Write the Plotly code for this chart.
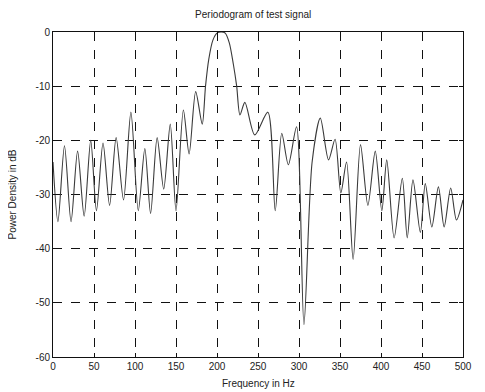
import plotly.graph_objects as go

# Frequency (Hz) and power (dB)
freq_hz = [0, 6, 14, 22, 30, 38, 46, 53, 61, 69, 77, 86, 95, 104, 112, 119, 127, 135,
           143, 150, 159, 166, 174, 182, 186, 190, 195, 200, 205, 210, 215, 220, 224,
           228, 234, 246, 262, 271, 279, 287, 297, 306, 316, 326, 336, 344, 351, 358,
           366, 375, 384, 393, 401, 407, 416, 426, 432, 439, 448, 454, 462, 470, 477,
           485, 492, 500]
power_db = [-24, -35, -21, -35, -22, -34, -20, -33, -20.5, -32, -19.5, -31, -14.8, -33,
            -21.5, -33.5, -19.5, -29, -17, -33, -14.4, -22.5, -11, -17, -10, -5, -1.5,
            -0.2, 0, -0.2, -2, -6, -10, -15.3, -13, -19, -14.8, -33, -18.7, -24.5, -17.5,
            -54, -24, -15.9, -23.6, -19.8, -29.7, -24, -42, -20.8, -32, -22, -33, -23.6,
            -38, -27, -38, -27.3, -37, -28, -36, -28.6, -36, -28.8, -34.7, -31]

x_ticks = [0, 50, 100, 150, 200, 250, 300, 350, 400, 450, 500]
y_ticks = [0, -10, -20, -30, -40, -50, -60]

FONT = "Liberation Sans, Arial, sans-serif"

fig = go.Figure()
fig.add_trace(go.Scatter(
    x=freq_hz, y=power_db, mode="lines",
    line=dict(color="#3a3a3a", width=1.1, shape="spline", smoothing=0.8),
    showlegend=False, hoverinfo="skip",
))

axis_common = dict(
    showline=True, linecolor="#111", linewidth=1, mirror="ticks",
    ticks="inside", ticklen=4, tickcolor="#111",
    showgrid=True, gridcolor="#111", gridwidth=1.3, griddash="dash",
    zeroline=False, automargin=False,
    tickfont=dict(family=FONT, size=10, color="#222"),
)

# The page body adds an 8 px offset, so the figure is sized to fit inside it.
fig.update_layout(
    width=477, height=384,
    margin=dict(l=45, r=22, t=24, b=35),
    paper_bgcolor="white", plot_bgcolor="white",
    font=dict(family=FONT, size=10, color="#222"),
    title=dict(text="Periodogram of test signal", x=0.514, xanchor="center",
               y=0.984, yanchor="middle", font=dict(size=10, color="#222")),
    xaxis=dict(range=[0, 500], tickvals=x_ticks, ticktext=[str(v) for v in x_ticks],
               **axis_common),
    yaxis=dict(range=[-60, 0], tickvals=y_ticks, ticktext=[str(v) for v in y_ticks],
               **axis_common),
    annotations=[
        dict(text="Frequency in Hz", xref="paper", yref="paper", x=0.5, y=-0.058,
             xanchor="center", yanchor="top", showarrow=False, font=dict(size=10)),
        dict(text="Power Density in dB", xref="paper", yref="paper", x=-0.1, y=0.5,
             xanchor="center", yanchor="middle", textangle=-90, showarrow=False,
             font=dict(size=10)),
    ],
)

fig.write_html("out.html")
